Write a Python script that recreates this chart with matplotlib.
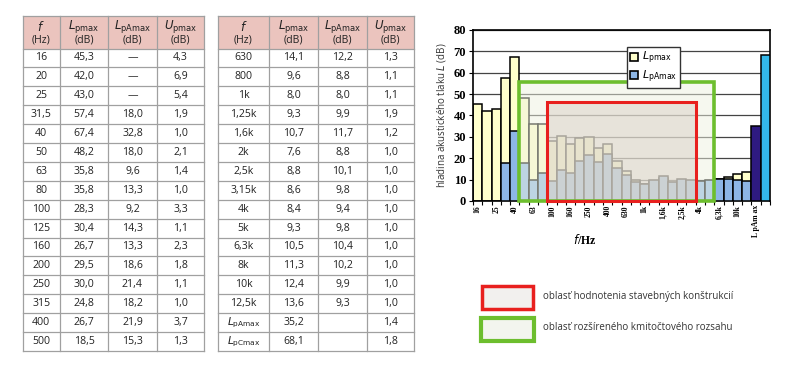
import numpy as np
import matplotlib
matplotlib.use("Agg")
import matplotlib.pyplot as plt
from matplotlib.patches import Rectangle, Patch

# ---- data ----
bands = ['16', '20', '25', '31,5', '40', '50', '63', '80', '100', '125', '160', '200',
         '250', '315', '400', '500', '630', '800', '1k', '1,25k', '1,6k', '2k', '2,5k',
         '3,15k', '4k', '5k', '6,3k', '8k', '10k', '12,5k']
lp_max = [45.3, 42.0, 43.0, 57.4, 67.4, 48.2, 35.8, 35.8, 28.3, 30.4, 26.7, 29.5,
          30.0, 24.8, 26.7, 18.5, 14.1, 9.6, 8.0, 9.3, 10.7, 7.6, 8.8,
          8.6, 8.4, 9.3, 10.5, 11.3, 12.4, 13.6]
lpa_max = [None, None, None, 18.0, 32.8, 18.0, 9.6, 13.3, 9.2, 14.3, 13.3, 18.6,
           21.4, 18.2, 21.9, 15.3, 12.2, 8.8, 8.0, 9.9, 11.7, 8.8, 10.1,
           9.8, 9.4, 9.8, 10.4, 10.2, 9.9, 9.3]
u_max = [4.3, 6.9, 5.4, 1.9, 1.0, 2.1, 1.4, 1.0, 3.3, 1.1, 2.3, 1.8,
         1.1, 1.0, 3.7, 1.3, 1.3, 1.1, 1.1, 1.9, 1.2, 1.0, 1.0,
         1.0, 1.0, 1.0, 1.0, 1.0, 1.0, 1.0]
total_names = [r'$L_{\mathrm{pAmax}}$', r'$L_{\mathrm{pCmax}}$']
total_vals = [35.2, 68.1]
total_u = [1.4, 1.8]

xtick_labels = ['16', '25', '40', '63', '100', '160', '250', '400', '630', '1k',
                '1,6k', '2,5k', '4k', '6,3k', '10k', 'L pAm ax']

green_range = ('50', '5k')      # extended frequency range
red_range = ('100', '3,15k')    # building evaluation range
green_top = 55.5
red_top = 46.5

legend_texts = ['oblasť hodnotenia stavebných konštrukcií',
                'oblasť rozšíreného kmitočtového rozsahu']

YEL = '#FFFFCC'
BLU = '#8DB6E6'
NAVY = '#2E1A80'
CYAN = '#33B8EA'
GREEN = '#6DBE2E'
RED = '#E8201E'
HEAD = '#EBC4BE'
GRID_T = '#A0A0A0'


def fmt(v):
    if v is None:
        return '—'
    return f"{v:.1f}".replace('.', ',')


fig = plt.figure(figsize=(8, 3.65), dpi=100)

# ---- tables, drawn on a full-figure pixel axes ----
tab = fig.add_axes([0, 0, 1, 1])
tab.set_xlim(0, 800)
tab.set_ylim(365, 0)
tab.axis('off')

head_top, head_bot = 16, 48.5
row_h = 18.9
tfont = 'Open Sans'
tsize = 7.6


def draw_table(cols, rows):
    x0, x1 = cols[0], cols[-1]
    n = len(rows)
    y_end = head_bot + n * row_h
    tab.add_patch(Rectangle((x0, head_top), x1 - x0, head_bot - head_top,
                            facecolor=HEAD, edgecolor='none'))
    for x in cols:
        tab.plot([x, x], [head_top, y_end], color=GRID_T, lw=0.9)
    for y in [head_top, head_bot] + [head_bot + (i + 1) * row_h for i in range(n)]:
        tab.plot([x0, x1], [y, y], color=GRID_T, lw=0.9)
    heads = [r'$\mathbf{\mathit{f}}$', r'$L_{\mathrm{pmax}}$',
             r'$L_{\mathrm{pAmax}}$', r'$U_{\mathrm{pmax}}$']
    for j, h in enumerate(heads):
        xc = (cols[j] + cols[j + 1]) / 2
        tab.text(xc, 27, h, ha='center', va='center', fontsize=8.5, family=tfont,
                 color='#222222')
        tab.text(xc, 40, '(Hz)' if j == 0 else '(dB)', ha='center', va='center',
                 fontsize=tsize, family=tfont, color='#222222')
    for i, r in enumerate(rows):
        yc = head_bot + (i + 0.5) * row_h
        for j, val in enumerate(r):
            xc = (cols[j] + cols[j + 1]) / 2
            tab.text(xc, yc, val, ha='center', va='center', fontsize=tsize,
                     family=tfont, color='#222222')


rows1 = [[bands[i], fmt(lp_max[i]), fmt(lpa_max[i]), fmt(u_max[i])] for i in range(16)]
rows2 = [[bands[i], fmt(lp_max[i]), fmt(lpa_max[i]), fmt(u_max[i])] for i in range(16, 30)]
rows2 += [[total_names[k], fmt(total_vals[k]), '', fmt(total_u[k])] for k in range(2)]
draw_table([22.5, 60, 108, 157, 204], rows1)
draw_table([218, 269, 318, 367, 414], rows2)

# ---- bottom legend for the frequency regions ----
tab.add_patch(Rectangle((482, 286), 51, 23, facecolor='#F2F0EE', edgecolor=RED, lw=2.5))
tab.add_patch(Rectangle((481, 318), 53, 23, facecolor='#F3F5EE', edgecolor=GREEN, lw=3))
tab.text(543, 296, legend_texts[0], fontsize=7, family=tfont, va='center', color='#333333')
tab.text(543, 327, legend_texts[1], fontsize=7, family=tfont, va='center', color='#333333')

# ---- bar chart ----
ax = fig.add_axes([473 / 800, 1 - 201 / 365, 297 / 800, 171 / 365])
x = np.arange(len(bands))
lpa = np.array([np.nan if v is None else v for v in lpa_max])
has_a = ~np.isnan(lpa)

ax.bar(x, lp_max, width=1.0, color=YEL, edgecolor='black', lw=1.1, zorder=2)
ax.bar(x[has_a], lpa[has_a], width=1.0, color=BLU, edgecolor='black', lw=1.1, zorder=3)
xt = np.arange(len(bands), len(bands) + 2)
ax.bar(xt, total_vals, width=1.0, color=[NAVY, CYAN], edgecolor='black', lw=1.1, zorder=3)

# frequency-range overlays
g0, g1 = bands.index(green_range[0]), bands.index(green_range[1])
r0, r1 = bands.index(red_range[0]), bands.index(red_range[1])
ax.add_patch(Rectangle((g0 - 0.5, 0), g1 - g0 + 1, green_top, facecolor='#EEF2E0',
                       alpha=0.5, edgecolor='none', zorder=4))
ax.add_patch(Rectangle((r0 - 0.5, 0), r1 - r0 + 1, red_top, facecolor='#D9CFC6',
                       alpha=0.5, edgecolor='none', zorder=5))
ax.add_patch(Rectangle((g0 - 0.5, 0), g1 - g0 + 1, green_top, facecolor='none',
                       edgecolor=GREEN, lw=2.6, zorder=6, clip_on=False))
ax.add_patch(Rectangle((r0 - 0.5, 0), r1 - r0 + 1, red_top, facecolor='none',
                       edgecolor=RED, lw=2.2, zorder=7, clip_on=False))

ax.set_xlim(-0.5, len(bands) + 1.5)
ax.set_ylim(0, 80)
ax.set_yticks(np.arange(0, 81, 10))
ax.yaxis.grid(True, color='#444444', lw=0.9, zorder=0)
ax.set_axisbelow(True)
for s in ax.spines.values():
    s.set_linewidth(1.2)

ax.set_xticks(np.arange(0, len(bands) + 2, 2))
ax.set_xticklabels(xtick_labels, rotation=90, fontsize=5.5, family='Liberation Serif',
                   fontweight='bold')
ax.set_xticks(np.arange(-0.5, len(bands) + 2, 1), minor=True)
ax.tick_params(axis='x', which='major', length=0, pad=3)
ax.tick_params(axis='x', which='minor', length=3, width=0.8)
ax.tick_params(axis='y', length=3, width=0.8, pad=2)
for lab in ax.get_yticklabels():
    lab.set_family('Liberation Serif')
    lab.set_fontweight('bold')
    lab.set_fontsize(9)

ax.set_ylabel(r'hladina akustického tlaku $L$ (dB)', fontsize=7, family=tfont,
              color='#333333', labelpad=4)
fig.text(585 / 800, 1 - 240 / 365, r'$\mathbf{\mathit{f}}$/Hz', fontsize=8.5,
         family='Liberation Serif', fontweight='bold', ha='center', va='center')

handles = [Patch(facecolor=YEL, edgecolor='black', lw=1.2),
           Patch(facecolor=BLU, edgecolor='black', lw=1.2)]
leg = ax.legend(handles, [r'$L_{\mathrm{pmax}}$', r'$L_{\mathrm{pAmax}}$'],
                loc='upper left', bbox_to_anchor=(0.50, 0.935), fontsize=8,
                handlelength=0.7, handleheight=0.7, handletextpad=0.3,
                borderpad=0.3, labelspacing=0.2, fancybox=False, framealpha=1,
                edgecolor='#333333')
leg.set_zorder(10)

fig.savefig('out.png', dpi=100)
